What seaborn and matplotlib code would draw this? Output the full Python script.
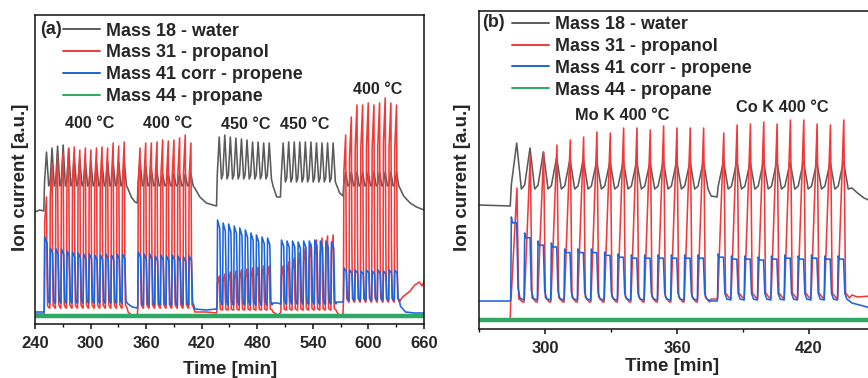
import numpy as np
import pandas as pd
import matplotlib
matplotlib.use("Agg")
import matplotlib.pyplot as plt
import seaborn as sns
from matplotlib.ticker import MultipleLocator

# ---------------- data ----------------
SERIES = ["Mass 18 - water", "Mass 31 - propanol", "Mass 41 corr - propene", "Mass 44 - propane"]
COLORS = ["#5b5b5b", "#f03a3a", "#1c64dc", "#2fa865"]

# Panel (a): pulse sections (start time [min], period [min])
A_SEC_START = [250.0, 351.0, 436.5, 505.5, 573.0]
A_SEC_PERIOD = [6.0, 6.1, 6.0, 6.0, 6.1]
A_WATER_PEAKS = [
    [172, 176, 178, 179, 175, 168, 165, 163, 162, 162, 162, 162, 162, 162, 162],
    [164, 158, 155, 152, 150, 150, 150, 150, 150, 150],
    [187, 189, 187, 186, 185, 184, 182, 182, 181, 181],
    [181, 182, 182, 182, 182, 182, 181, 181, 181, 181],
    [152, 152, 152, 152, 152, 152, 152, 152, 152, 152],
]
A_WATER_TROUGH = [138, 138, 145, 142, 138]
A_PROPANOL_PEAKS = [
    [127, 160, 167, 172, 176, 177, 174, 176, 174, 176, 177, 176, 181, 178, 182],
    [176, 181, 181, 182, 184, 183, 184, 186, 189, 181],
    [48, 50, 52, 53, 54, 55, 56, 57, 58, 58],
    [58, 62, 66, 71, 76, 80, 84, 86, 88, 89],
    [189, 207, 219, 219, 221, 219, 221, 226, 221, 219],
]
A_PROPANOL_TROUGH = [16, 16, 14, 14, 22]
A_PROPENE_PEAKS = [
    [87, 76, 75, 75, 73, 72, 71, 70, 70, 69, 69, 70, 69, 70, 70],
    [72, 70, 70, 68, 69, 68, 69, 68, 67, 68],
    [104, 101, 100, 98, 96, 94, 91, 89, 87, 86],
    [84, 83, 83, 82, 83, 83, 84, 83, 83, 82],
    [56, 54, 54, 53, 54, 53, 54, 53, 54, 54],
]
A_PROPENE_TROUGH = [21, 19, 19, 20, 24]
# panel (a): signal between pulse sections
A_WATER_GAP_T = [240, 245, 249.5, 340.5, 344, 348, 350.5, 412.5, 418, 425, 432, 436,
                 497, 501, 505, 566, 569, 572.5, 634.5, 638, 645, 652, 660]
A_WATER_GAP_V = [112, 114, 113, 135, 127, 122, 121, 136, 127, 121, 119, 118,
                 138, 127, 127, 138, 131, 128, 135, 128, 121, 117, 114]
A_PROPANOL_GAP_T = [240, 249.8, 340.5, 344, 350.5, 412.5, 425, 436, 497, 502, 505,
                    566, 569, 572.5, 634.5, 637, 645, 650, 655, 658, 660]
A_PROPANOL_GAP_V = [10, 10, 12, 9, 9, 12, 12, 11, 12, 9, 11,
                    12, 8, 10, 24, 27, 33, 39, 42, 38, 42]
A_PROPENE_GAP_T = [240, 249.8, 340.5, 345, 350.5, 412.5, 425, 436, 497, 502, 505,
                   566, 569, 572.5, 634.5, 640, 650, 660]
A_PROPENE_GAP_V = [12, 12, 20, 17, 16, 15, 14, 15, 21, 21, 20,
                   22, 22, 22, 18, 12, 11, 11]
A_PROPANE_T = [240, 660]
A_PROPANE_V = [8, 8]
A_NOTES = ["400 °C", "400 °C", "450 °C", "450 °C", "400 °C"]

# Panel (b)
B_SEC_START = [284.4, 378.4]
B_SEC_PERIOD = [6.06, 6.06]
B_WATER_PEAKS = [
    [186, 181, 177, 172, 170, 170, 168, 168, 168, 168, 167, 168, 168, 168, 168],
    [168, 168, 167, 168, 168, 167, 168, 167, 167, 168],
]
B_WATER_TROUGH = [140, 140]
B_PROPANOL_PEAKS = [
    [141, 174, 177, 184, 189, 192, 197, 196, 201, 201, 199, 203, 201, 201, 201],
    [196, 204, 205, 207, 205, 209, 209, 205, 204, 209],
]
B_PROPANOL_TROUGH = [27, 31]
B_PROPENE_PEAKS = [
    [112, 96, 88, 86, 80, 80, 80, 77, 75, 74, 74, 74, 74, 74, 74],
    [75, 73, 73, 72, 73, 74, 73, 74, 73, 73],
]
B_PROPENE_TROUGH = [29, 29]
B_WATER_GAP_T = [270, 284.2, 375.5, 378.2, 439.5, 442, 445, 448]
B_WATER_GAP_V = [124, 123, 133, 132, 141, 136, 131, 128]
B_PROPANOL_GAP_T = [270, 284.2, 375.5, 378.2, 439.5, 442, 448]
B_PROPANOL_GAP_V = [10, 9, 30, 30, 34, 32, 33]
B_PROPENE_GAP_T = [270, 284.2, 375.5, 378.2, 439.5, 443, 448]
B_PROPENE_GAP_V = [28, 28, 28, 28, 26, 24, 21]
B_PROPANE_T = [270, 448]
B_PROPANE_V = [9, 9]
B_NOTES = ["Mo K 400 °C", "Co K 400 °C"]

# pulse shape templates: (fraction of period, fraction of peak height)
TPL_A = {
    "water": [(0.05, 0.1), (0.40, 1.0), (0.80, 0.0)],
    "propanol": [(0.0, 0.0), (0.08, 0.78), (0.40, 1.0), (0.50, 0.3), (0.60, 0.02), (0.90, 0.0)],
    "propene": [(0.0, 0.0), (0.10, 1.0), (0.50, 0.9), (0.70, 0.05), (0.90, 0.0)],
}
TPL_B = {
    "water": [(0.05, 0.1), (0.45, 1.0), (0.80, 0.0)],
    "propanol": [(0.0, 0.0), (0.04, 0.05), (0.47, 1.0), (0.60, 0.03), (0.90, 0.0)],
    "propene": [(0.0, 0.0), (0.05, 1.0), (0.12, 0.93), (0.45, 0.93), (0.55, 0.15), (0.70, 0.02)],
}


def build(starts, periods, peaks, troughs, tpl, gap_t, gap_v):
    t = list(gap_t)
    v = list(gap_v)
    for s, p, pks, tr in zip(starts, periods, peaks, troughs):
        for i, pk in enumerate(pks):
            t0 = s + i * p
            for frac, lev in tpl:
                t.append(t0 + frac * p)
                v.append(tr + lev * (pk - tr))
    order = np.argsort(t)
    return np.asarray(t)[order], np.asarray(v)[order]


def frame(series_list):
    parts = []
    for name, (t, v) in zip(SERIES, series_list):
        parts.append(pd.DataFrame({"Time": t, "Signal": v, "Series": name}))
    return pd.concat(parts, ignore_index=True)


df_a = frame([
    build(A_SEC_START, A_SEC_PERIOD, A_WATER_PEAKS, A_WATER_TROUGH, TPL_A["water"], A_WATER_GAP_T, A_WATER_GAP_V),
    build(A_SEC_START, A_SEC_PERIOD, A_PROPANOL_PEAKS, A_PROPANOL_TROUGH, TPL_A["propanol"], A_PROPANOL_GAP_T, A_PROPANOL_GAP_V),
    build(A_SEC_START, A_SEC_PERIOD, A_PROPENE_PEAKS, A_PROPENE_TROUGH, TPL_A["propene"], A_PROPENE_GAP_T, A_PROPENE_GAP_V),
    (np.asarray(A_PROPANE_T), np.asarray(A_PROPANE_V)),
])
df_b = frame([
    build(B_SEC_START, B_SEC_PERIOD, B_WATER_PEAKS, B_WATER_TROUGH, TPL_B["water"], B_WATER_GAP_T, B_WATER_GAP_V),
    build(B_SEC_START, B_SEC_PERIOD, B_PROPANOL_PEAKS, B_PROPANOL_TROUGH, TPL_B["propanol"], B_PROPANOL_GAP_T, B_PROPANOL_GAP_V),
    build(B_SEC_START, B_SEC_PERIOD, B_PROPENE_PEAKS, B_PROPENE_TROUGH, TPL_B["propene"], B_PROPENE_GAP_T, B_PROPENE_GAP_V),
    (np.asarray(B_PROPANE_T), np.asarray(B_PROPANE_V)),
])

# ---------------- styling ----------------
sns.set_theme(style="ticks")
plt.rcParams["font.family"] = ["Liberation Sans", "DejaVu Sans"]
plt.rcParams["font.weight"] = "bold"
plt.rcParams["axes.labelweight"] = "bold"
plt.rcParams["axes.linewidth"] = 1.1
plt.rcParams["axes.edgecolor"] = "#111111"

W, H = 868, 378
fig = plt.figure(figsize=(W / 100, H / 100), dpi=100)


def px_axes(left, top, right, bottom):
    return fig.add_axes([left / W, 1 - bottom / H, (right - left) / W, (bottom - top) / H])


ax_a = px_axes(35, 15, 424, 324)
ax_b = px_axes(479, 11, 870, 329)


def draw(ax, df):
    for name, color in zip(SERIES, COLORS):
        sub = df[df["Series"] == name]
        lw = 3.2 if name.startswith("Mass 44") else 1.15
        sns.lineplot(data=sub, x="Time", y="Signal", ax=ax, color=color, linewidth=lw,
                     label=name, estimator=None, sort=False, errorbar=None)


draw(ax_a, df_a)
draw(ax_b, df_b)

ax_a.set_xlim(240, 660)
ax_a.set_ylim(0, 309)
ax_b.set_xlim(270, 447.7)
ax_b.set_ylim(0, 318)

for ax, pad in ((ax_a, 5.5), (ax_b, 5.0)):
    ax.xaxis.set_major_locator(MultipleLocator(60))
    ax.xaxis.set_minor_locator(MultipleLocator(30))
    ax.set_yticks([])
    ax.tick_params(axis="x", which="major", direction="out", length=3.5, width=1.1,
                   labelsize=12, pad=pad, color="#111111")
    ax.tick_params(axis="x", which="minor", direction="out", length=2.2, width=1.0, color="#111111")
    for lab in ax.get_xticklabels():
        lab.set_fontweight("bold")
    ax.set_xlabel("Time [min]", fontsize=13.5, fontweight="bold")
    ax.set_ylabel("Ion current [a.u.]", fontsize=13.5, fontweight="bold")
    for sp in ax.spines.values():
        sp.set_visible(True)

ax_a.xaxis.set_label_coords(0.501, -0.12)
ax_a.yaxis.set_label_coords(-0.015, 0.474)
ax_b.xaxis.set_label_coords(0.495, -0.092)
ax_b.yaxis.set_label_coords(-0.021, 0.478)


def legend(ax, x_px, top_px):
    leg = ax.legend(loc="upper left", bbox_to_anchor=(x_px / W, 1 - top_px / H),
                    bbox_transform=fig.transFigure, frameon=False,
                    prop={"weight": "bold", "size": 12.9}, handlelength=2.07,
                    handletextpad=0.33, labelspacing=0.27, borderpad=0, borderaxespad=0)
    for h in leg.legend_handles:
        h.set_linewidth(1.4)
    return leg


legend(ax_a, 63, 22.5)
legend(ax_b, 512, 16)

fig.text(51 / W, 1 - 29 / H, "(a)", ha="center", va="center", fontsize=12.9, fontweight="bold")
fig.text(493.5 / W, 1 - 22.3 / H, "(b)", ha="center", va="center", fontsize=12.9, fontweight="bold")

A_NOTE_POS = [(298.9, 200), (383.1, 200), (467.9, 199), (531.6, 199), (610.4, 235)]
for txt, (x, y) in zip(A_NOTES, A_NOTE_POS):
    ax_a.text(x, y, txt, ha="center", va="center", fontsize=11.6, fontweight="bold")
B_NOTE_POS = [(335.2, 213), (408.0, 222)]
for txt, (x, y) in zip(B_NOTES, B_NOTE_POS):
    ax_b.text(x, y, txt, ha="center", va="center", fontsize=11.8, fontweight="bold")

fig.savefig("out.png", dpi=100)
